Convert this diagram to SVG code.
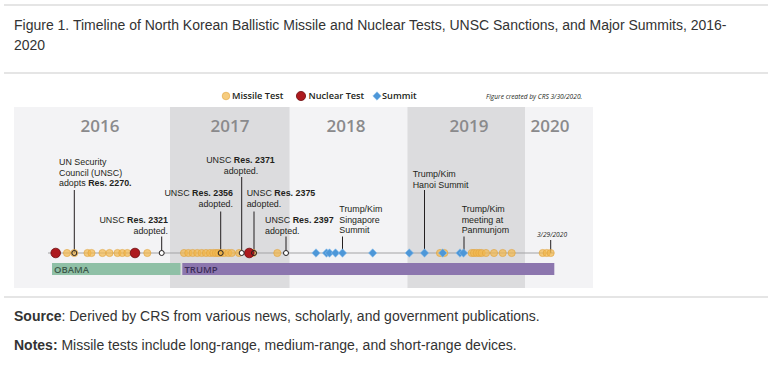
<svg xmlns="http://www.w3.org/2000/svg" width="774" height="367" viewBox="0 0 774 367">
<style>
.rule{stroke:#dcdcdc;stroke-width:1.5;fill:none}
.cap{font-family:"Liberation Sans",Arial,sans-serif;font-size:14px;fill:#333}
.yr{font-family:"Open Sans","Noto Sans",sans-serif;font-size:17px;font-weight:600;fill:#8a8a8c;text-anchor:middle}
.lbl{font-family:"Liberation Sans",Arial,sans-serif;font-size:8.9px;fill:#231f20}
.lbl .b{font-weight:700}
.leg{font-family:"Open Sans","Noto Sans",sans-serif;font-size:9.2px;font-weight:600;fill:#231f20}
.note{font-family:"Open Sans","Noto Sans",sans-serif;font-size:6.6px;font-style:italic;fill:#231f20}
.ms{fill:#f2b94e;fill-opacity:0.72;stroke:#e0a23a;stroke-width:0.6}
.nk{fill:#ad1a1e;stroke:#6f0e10;stroke-width:0.8}
.sm{fill:#4d97d8;stroke:#8cc0ec;stroke-width:0.6}
.mk{fill:none;stroke:#231f20;stroke-width:1}
.mkw{fill:#ffffff;stroke:#231f20;stroke-width:1}
.conn line{stroke:#231f20;stroke-width:1}
.pres{font-family:"Open Sans","Noto Sans",sans-serif;font-size:9.5px;font-weight:600}
</style>
<defs>
<path id="dia" d="M0,-4.2 L4.2,0 L0,4.2 L-4.2,0 Z"/>
</defs>

<!-- page rules and captions -->
<line class="rule" x1="4" y1="5" x2="768" y2="5"/>
<line class="rule" x1="4" y1="73" x2="768" y2="73"/>
<line class="rule" x1="4" y1="297" x2="768" y2="297"/>
<text class="cap" x="14" y="30">Figure 1. Timeline of North Korean Ballistic Missile and Nuclear Tests, UNSC Sanctions, and Major Summits, 2016-<tspan x="14" dy="20">2020</tspan></text>
<text class="cap" x="14" y="321"><tspan font-weight="700">Source</tspan>: Derived by CRS from various news, scholarly, and government publications.</text>
<text class="cap" x="14" y="350"><tspan font-weight="700">Notes:</tspan> Missile tests include long-range, medium-range, and short-range devices.</text>

<!-- chart background -->
<g id="panel">
<rect x="14" y="107" width="579" height="181" fill="#f3f3f5"/>
<rect x="170" y="107" width="119.5" height="181" fill="#dcdcde"/>
<rect x="407.5" y="107" width="117.5" height="181" fill="#dcdcde"/>
<text class="yr" x="100" y="132">2016</text>
<text class="yr" x="230" y="132">2017</text>
<text class="yr" x="346" y="132">2018</text>
<text class="yr" x="469" y="132">2019</text>
<text class="yr" x="550" y="132">2020</text>
</g>

<!-- legend -->
<g id="legend">
<circle class="ms" cx="226" cy="96" r="3.8"/>
<text class="leg" x="232" y="99.3">Missile Test</text>
<circle class="nk" cx="301" cy="96" r="4.6"/>
<text class="leg" x="308.5" y="99.3">Nuclear Test</text>
<use href="#dia" class="sm" x="377" y="96"/>
<text class="leg" x="382" y="99.3">Summit</text>
<text class="note" x="486" y="98.5">Figure created by CRS 3/30/2020.</text>
</g>

<!-- presidencies -->
<g id="obama">
<rect x="52" y="263" width="128.5" height="12" fill="#8fc0a6"/>
<text class="pres" x="54" y="272.6" fill="#3e5a4b">OBAMA</text>
</g>
<g id="trump">
<rect x="182.3" y="263" width="372" height="12" fill="#8c76ae"/>
<text class="pres" x="184.5" y="272.6" fill="#3b2c58">TRUMP</text>
</g>

<!-- timeline axis -->
<line x1="48" y1="253" x2="554" y2="253" stroke="#a3a3a5" stroke-width="1"/>

<!-- connectors -->
<g id="connectors" class="conn">
<line x1="74.3" y1="190" x2="74.3" y2="253"/>
<line x1="161.7" y1="236.5" x2="161.7" y2="253"/>
<line x1="220.7" y1="211.5" x2="220.7" y2="253"/>
<line x1="241.7" y1="177" x2="241.7" y2="253"/>
<line x1="254" y1="211.5" x2="254" y2="253"/>
<line x1="286" y1="236.5" x2="286" y2="253"/>
<line x1="342.5" y1="236.5" x2="342.5" y2="253"/>
<line x1="424.5" y1="190" x2="424.5" y2="253"/>
<line x1="464" y1="236.5" x2="464" y2="253"/>
<line x1="550.7" y1="240" x2="550.7" y2="253"/>
</g>

<!-- missile tests -->
<g id="missile-tests">
<circle class="ms" cx="67" cy="253" r="3.6"/>
<circle class="ms" cx="74.3" cy="253" r="3.6"/>
<circle class="ms" cx="87.5" cy="253" r="3.6"/>
<circle class="ms" cx="91.5" cy="253" r="3.6"/>
<circle class="ms" cx="102.5" cy="253" r="3.6"/>
<circle class="ms" cx="109.5" cy="253" r="3.6"/>
<circle class="ms" cx="117.5" cy="253" r="3.6"/>
<circle class="ms" cx="122.3" cy="253" r="3.6"/>
<circle class="ms" cx="127.3" cy="253" r="3.6"/>
<circle class="ms" cx="147.3" cy="253" r="3.6"/>
<circle class="ms" cx="184" cy="253" r="3.6"/>
<circle class="ms" cx="188.3" cy="253" r="3.6"/>
<circle class="ms" cx="192.7" cy="253" r="3.6"/>
<circle class="ms" cx="197.3" cy="253" r="3.6"/>
<circle class="ms" cx="201.7" cy="253" r="3.6"/>
<circle class="ms" cx="206" cy="253" r="3.6"/>
<circle class="ms" cx="210" cy="253" r="3.6"/>
<circle class="ms" cx="213.3" cy="253" r="3.6"/>
<circle class="ms" cx="216" cy="253" r="3.6"/>
<circle class="ms" cx="218.3" cy="253" r="3.6"/>
<circle class="ms" cx="221" cy="253" r="3.6"/>
<circle class="ms" cx="224.3" cy="253" r="3.6"/>
<circle class="ms" cx="228.3" cy="253" r="3.6"/>
<circle class="ms" cx="231.7" cy="253" r="3.6"/>
<circle class="ms" cx="239" cy="253" r="3.6"/>
<circle class="ms" cx="253" cy="253" r="3.6"/>
<circle class="ms" cx="277.3" cy="253" r="3.6"/>
<circle class="ms" cx="440" cy="253" r="3.6"/>
<circle class="ms" cx="444.3" cy="253" r="3.6"/>
<circle class="ms" cx="471.7" cy="253" r="3.6"/>
<circle class="ms" cx="474" cy="253" r="3.6"/>
<circle class="ms" cx="476.7" cy="253" r="3.6"/>
<circle class="ms" cx="479.3" cy="253" r="3.6"/>
<circle class="ms" cx="481.7" cy="253" r="3.6"/>
<circle class="ms" cx="486" cy="253" r="3.6"/>
<circle class="ms" cx="494" cy="253" r="3.6"/>
<circle class="ms" cx="502.7" cy="253" r="3.6"/>
<circle class="ms" cx="511.7" cy="253" r="3.6"/>
<circle class="ms" cx="542.7" cy="253" r="3.6"/>
<circle class="ms" cx="546.7" cy="253" r="3.6"/>
<circle class="ms" cx="550.7" cy="253" r="3.6"/>
</g>

<!-- nuclear tests -->
<g id="nuclear-tests">
<circle class="nk" cx="55.7" cy="253" r="4.8"/>
<circle class="nk" cx="135" cy="253" r="4.8"/>
<circle class="nk" cx="249.3" cy="253" r="4.8"/>
</g>

<!-- summits -->
<g id="summits">
<use href="#dia" class="sm" x="316" y="253"/>
<use href="#dia" class="sm" x="326.5" y="253"/>
<use href="#dia" class="sm" x="329.5" y="253"/>
<use href="#dia" class="sm" x="335.5" y="253"/>
<use href="#dia" class="sm" x="342.5" y="253"/>
<use href="#dia" class="sm" x="372.7" y="253"/>
<use href="#dia" class="sm" x="409.3" y="253"/>
<use href="#dia" class="sm" x="424.5" y="253"/>
<use href="#dia" class="sm" x="442.7" y="253"/>
<use href="#dia" class="sm" x="460" y="253"/>
<use href="#dia" class="sm" x="463.5" y="253"/>
</g>

<!-- UNSC resolutions -->
<g id="res-2270">
<circle class="mk" cx="74.3" cy="253" r="2.5"/>
<text class="lbl" x="59" y="165">UN Security<tspan x="59" dy="10.6">Council (UNSC)</tspan><tspan x="59" dy="10.6">adopts </tspan><tspan class="b">Res. 2270.</tspan></text>
</g>
<g id="res-2321">
<circle class="mkw" cx="161.7" cy="253" r="2.5"/>
<text class="lbl" x="168" y="223" text-anchor="end">UNSC <tspan class="b">Res. 2321</tspan><tspan x="168" dy="10.6">adopted.</tspan></text>
</g>
<g id="res-2356">
<circle class="mk" cx="220.7" cy="253" r="2.5"/>
<text class="lbl" x="233" y="196" text-anchor="end">UNSC <tspan class="b">Res. 2356</tspan><tspan x="233" dy="10.6">adopted.</tspan></text>
</g>
<g id="res-2371">
<circle class="mkw" cx="241.7" cy="253" r="2.5"/>
<text class="lbl" x="240.5" y="163" text-anchor="middle">UNSC <tspan class="b">Res. 2371</tspan><tspan x="241" dy="10.6">adopted.</tspan></text>
</g>
<g id="res-2375">
<circle class="mk" cx="254" cy="253" r="2.5"/>
<text class="lbl" x="246.7" y="196">UNSC <tspan class="b">Res. 2375</tspan><tspan x="246.7" dy="10.6">adopted.</tspan></text>
</g>
<g id="res-2397">
<circle class="mkw" cx="286" cy="253" r="2.5"/>
<text class="lbl" x="265" y="223">UNSC <tspan class="b">Res. 2397</tspan><tspan x="265" dy="10.6">adopted.</tspan></text>
</g>

<!-- summit labels -->
<g id="singapore">
<text class="lbl" x="339.3" y="212">Trump/Kim<tspan x="339.3" dy="10.6">Singapore</tspan><tspan x="339.3" dy="10.6">Summit</tspan></text>
</g>
<g id="hanoi">
<text class="lbl" x="412.7" y="177">Trump/Kim<tspan x="412.7" dy="10.6">Hanoi Summit</tspan></text>
</g>
<g id="panmunjom">
<text class="lbl" x="461.7" y="212">Trump/Kim<tspan x="461.7" dy="10.6">meeting at</tspan><tspan x="461.7" dy="10.6">Panmunjom</tspan></text>
</g>
<g id="date-2020">
<text class="note" x="552" y="237" text-anchor="middle">3/29/2020</text>
</g>
</svg>
